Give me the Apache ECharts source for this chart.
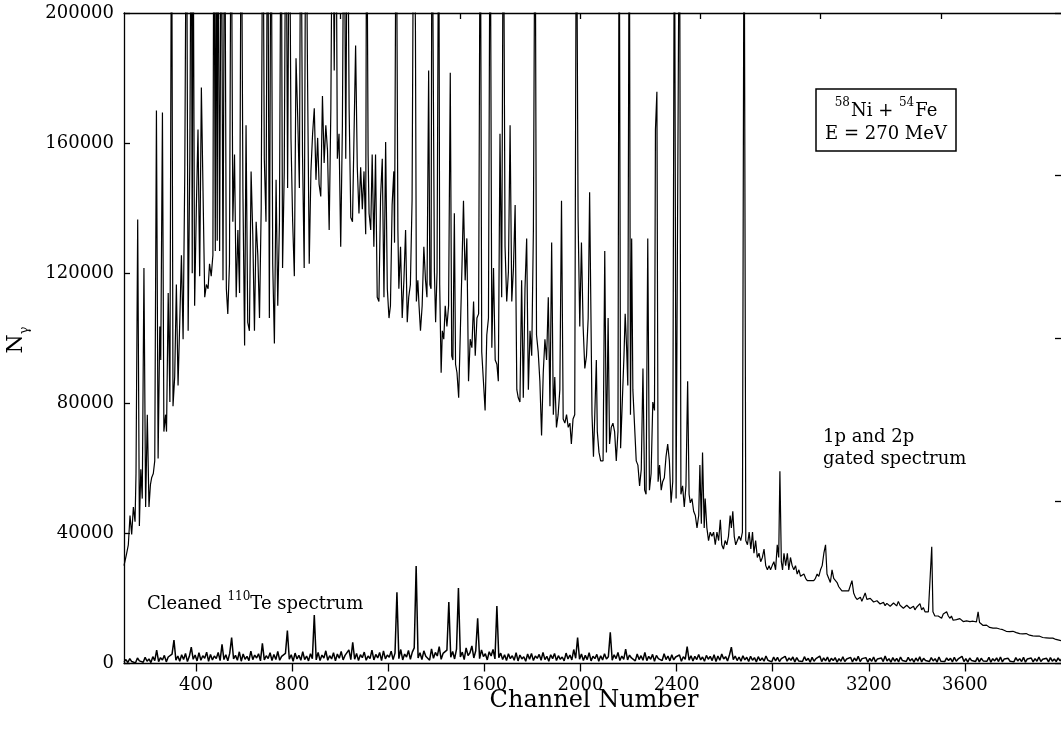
<!DOCTYPE html>
<html><head><meta charset="utf-8">
<script src="https://cdn.jsdelivr.net/npm/echarts@6/dist/echarts.min.js"></script>
<style>html,body{margin:0;padding:0;background:#fff}#c{width:1061px;height:732px}</style>
</head><body><div id="c"></div>
<script>
// ---- data ----
const xTickValues = [400, 800, 1200, 1600, 2000, 2400, 2800, 3200, 3600];
const topTickValues = [500, 1000, 1500, 2000, 2500, 3000, 3500];
const yTickInterval = 40000;
const rightTickInterval = 50000;

// 1p and 2p gated spectrum: [channel, counts]
const gatedSpectrum = [
[100,30100],[110,33500],[118,36500],[125,45500],[132,39700],[139,48100],[146,43600],[150,58400],[157,136500],[164,42300],[170,59700],[176,50700],[183,121600],[190,48100],[197,76500],[204,48100],[210,55000],[215,57100],[222,58400],[228,62300],[235,170000],[242,63000],[249,103600],[253,93300],[260,169400],[266,71300],[273,76500],[277,71300],[284,113900],[291,80400],[298,250000],[304,79100],[311,88100],[318,116500],[325,85500],[332,104900],[339,125500],[346,99700],[353,151300],[360,250000],[367,102300],[374,155200],[380,250000],[384,120000],[387,250000],[394,110000],[401,139700],[408,164200],[415,119100],[422,177100],[429,177100],[436,112600],[443,116500],[450,115200],[456,122900],[463,119100],[470,125500],[474,250000],[480,126800],[484,250000],[488,130000],[491,250000],[498,126800],[505,250000],[512,117800],[519,250000],[526,115200],[532,107500],[539,122900],[546,250000],[553,135800],[560,156500],[567,112600],[574,133300],[581,113900],[588,250000],[595,144900],[602,97800],[608,165500],[615,104900],[622,102300],[629,151300],[636,132000],[643,102300],[650,135800],[657,125500],[664,106200],[671,139700],[678,250000],[684,155200],[691,135800],[698,250000],[705,106200],[712,250000],[719,122900],[726,98400],[733,148700],[740,110000],[747,135800],[754,250000],[760,121600],[767,151300],[774,250000],[781,146200],[788,250000],[795,161600],[802,135800],[809,119100],[816,186100],[823,168100],[830,146200],[836,250000],[843,156500],[850,121600],[857,250000],[864,179700],[871,122900],[878,151300],[885,162900],[892,170700],[899,148700],[906,161600],[912,147400],[919,143600],[926,174500],[933,153900],[940,165500],[947,157800],[954,133300],[961,170700],[968,250000],[975,182300],[982,250000],[988,155200],[995,162900],[1002,128100],[1009,165500],[1016,250000],[1023,155200],[1030,250000],[1037,170700],[1044,137100],[1051,135800],[1058,135800],[1064,190000],[1071,152600],
[1078,138400],[1085,152600],[1092,139700],[1099,151300],[1106,132000],[1110,250000],[1116,156500],[1120,138400],[1127,133300],[1133,156500],[1140,128100],[1147,156500],[1154,112600],[1161,111300],[1168,143600],[1175,155200],[1182,112600],[1189,160300],[1196,115200],[1203,106200],[1209,110000],[1216,141000],[1223,151300],[1226,129400],[1233,250000],[1240,133300],[1244,115200],[1251,128100],[1258,106200],[1265,117800],[1272,133300],[1279,104900],[1285,112600],[1292,116500],[1299,142300],[1306,250000],[1313,195200],[1317,111300],[1323,117800],[1328,110000],[1334,102300],[1341,110000],[1348,128100],[1355,117800],[1361,112600],[1368,182300],[1373,116500],[1378,115200],[1382,250000],[1386,250000],[1392,120400],[1397,104900],[1403,120400],[1410,250000],[1414,116500],[1420,89400],[1425,102300],[1431,99700],[1437,110000],[1444,103600],[1451,110000],[1458,181600],[1464,94600],[1469,93300],[1475,138400],[1480,92000],[1486,89400],[1493,81700],[1500,102300],[1507,122900],[1513,142300],[1520,117800],[1527,130700],[1534,86800],[1541,99700],[1548,97100],[1555,111300],[1562,94600],[1569,106200],[1576,107500],[1583,250000],[1589,95800],[1596,86800],[1603,77800],[1610,101000],[1617,106200],[1624,250000],[1631,97100],[1638,121600],[1645,93300],[1652,92000],[1658,86800],[1665,162900],[1672,112600],[1679,250000],[1686,128100],[1693,111300],[1700,120400],[1707,165500],[1714,111300],[1721,121600],[1728,141000],[1735,84200],[1741,81700],[1748,80400],[1755,117800],[1762,81700],[1769,115200],[1776,130700],[1783,84200],[1790,102300],[1797,94600],[1804,133300],[1811,250000],[1817,101000],[1824,95800],[1831,86800],[1838,70100],[1845,89400],[1852,99700],[1859,93300],[1866,112600],[1873,79100],[1880,129400],[1887,76500],[1893,88100],[1900,72600],[1907,76500],[1914,84200],[1921,142300],[1928,75200],[1935,73900],[1942,76500],[1949,72600],[1956,73900],[1962,67500],[1969,75200],[1976,76500],[1983,250000],[1990,137100],[1997,103600],[2004,129400],[2011,103600],[2018,90700],[2025,94600],[2032,106200],[2038,144900],
[2048,76500],[2054,63600],[2059,75200],[2066,93300],[2070,71300],[2077,64900],[2084,62300],[2094,62300],[2101,126800],[2108,64900],[2115,106200],[2121,67500],[2128,72600],[2135,73900],[2142,71300],[2149,62300],[2156,71300],[2161,250000],[2167,66200],[2174,66200],[2181,94600],[2186,107500],[2192,97100],[2197,85500],[2203,250000],[2208,76500],[2213,130700],[2218,84200],[2225,84200],[2232,62300],[2239,61000],[2246,54600],[2253,59700],[2260,90700],[2267,53300],[2273,52000],[2280,130700],[2287,53300],[2294,58400],[2301,80400],[2308,77800],[2312,164200],[2318,175800],[2323,55900],[2329,61000],[2336,53300],[2342,55900],[2349,57100],[2356,63600],[2363,67500],[2370,62300],[2377,49400],[2384,55900],[2391,250000],[2398,50700],[2405,50700],[2412,250000],[2418,52000],[2425,54600],[2432,48100],[2439,54600],[2446,86800],[2452,52000],[2457,49400],[2464,50700],[2471,46800],[2478,45500],[2485,41700],[2492,45500],[2497,61000],[2503,43000],[2508,64900],[2515,41700],[2519,50700],[2526,41700],[2533,37800],[2540,40400],[2547,39100],[2554,40400],[2561,36500],[2568,40400],[2575,37800],[2582,44200],[2588,36500],[2595,35200],[2602,37800],[2609,36500],[2616,39100],[2623,45500],[2628,41700],[2634,46800],[2640,39100],[2646,36500],[2653,37800],[2660,39100],[2667,37800],[2674,40400],[2681,250000],[2688,37800],[2695,36500],[2702,40400],[2709,35200],[2716,40400],[2722,33900],[2729,37800],[2736,32600],[2743,33900],[2750,31300],[2757,32600],[2764,35200],[2771,30100],[2778,28800],[2785,30100],[2791,28800],[2798,30100],[2805,31300],[2812,28800],[2819,36500],[2825,32600],[2830,59100],[2836,31300],[2841,28800],[2847,33900],[2854,30100],[2861,33900],[2867,28800],[2874,32600],[2881,30100],[2888,28800],[2895,30100],[2902,27500],[2909,28800],[2916,26800],[2923,26200],[2930,27500],[2937,26200],[2944,25500],[2950,24900],[2957,25500],[2964,24900],[2971,25500],[2978,26200],[2985,27500],[2992,26800],[2999,28800],[3006,30100],[3013,33900],[3020,36500],
[3026,27500],[3033,26200],[3040,24900],[3047,28800],[3054,26200],[3061,26800],[3068,24900],[3075,23600],[3082,23000],[3088,22300],[3095,21700],[3102,22300],[3109,21700],[3116,22300],[3123,21700],[3130,25500],[3137,21700],[3144,20400],[3151,19700],[3158,19700],[3165,20400],[3171,19100],[3178,19700],[3185,21700],[3192,19700],[3199,19100],[3206,20000],[3213,19700],[3220,18900],[3227,18400],[3234,19300],[3240,19100],[3247,18300],[3254,18400],[3261,18800],[3268,17800],[3275,18500],[3282,18400],[3289,17600],[3296,17800],[3303,18600],[3310,18400],[3316,17700],[3323,19100],[3330,17900],[3337,17800],[3344,17000],[3351,17200],[3358,17900],[3365,17800],[3372,16900],[3379,17200],[3386,17600],[3392,16500],[3399,17300],[3406,17800],[3413,18400],[3420,16500],[3427,17200],[3434,15900],[3441,16500],[3448,15900],[3456,15900],[3462,35900],[3467,15900],[3475,14600],[3482,15200],[3489,14600],[3496,14100],[3503,13900],[3510,15200],[3517,14600],[3524,15900],[3531,14600],[3538,13900],[3544,14600],[3551,13300],[3558,13900],[3565,13500],[3572,13300],[3579,13800],[3586,13300],[3593,12900],[3600,12600],[3607,13100],[3614,12600],[3621,12900],[3627,12600],[3634,13000],[3641,13300],[3648,12800],[3655,15900],[3661,12600],[3669,12000],[3676,11700],[3683,11400],[3690,11800],[3696,11400],[3703,11100],[3710,11400],[3717,10900],[3724,10700],[3731,10900],[3738,10500],[3745,10600],[3752,10100],[3758,10400],[3765,10300],[3772,9900],[3779,10100],[3786,9800],[3793,9700],[3800,9900],[3807,9400],[3814,9500],[3821,9600],[3828,9200],[3835,9400],[3841,9100],[3848,9000],[3855,9200],[3862,8800],[3869,8700],[3876,8900],[3883,8500],[3890,8800],[3897,8400],[3904,8300],[3911,8400],[3918,8100],[3924,8000],[3931,8200],[3938,7900],[3945,8100],[3952,7800],[3959,7700],[3966,7800],[3973,7500],[3979,7400],[3984,7200],[4000,7000]
];

// Cleaned 110Te spectrum: counts every 8 channels from channel 100
const cleanedStart = 100;
const cleanedStep = 8;
const cleanedCounts = [
500,1200,300,1500,600,1000,200,1700,800,1300,
400,1900,700,1400,300,2100,900,4100,600,1800,
1100,2500,500,2000,1400,2900,7200,1000,2300,700,
2700,1200,3100,600,2200,5000,1300,2600,800,3300,
1000,2400,1600,3500,700,2800,1100,2300,1500,3400,
900,5900,1200,2700,800,3100,8000,1400,2500,1000,
3600,700,2900,1300,2200,900,3800,1200,2600,1700,
3000,800,6200,1100,2400,1500,3300,900,2800,1200,
3700,1000,2200,1600,3100,10100,1300,2700,700,3200,
1400,2500,1000,3600,1200,2300,800,3000,1500,14900,
1100,3400,900,2600,1700,3900,1000,2400,1400,3300,
800,2900,1600,3700,1100,2500,1900,4200,1200,6500,
1300,3100,900,2700,1800,3500,1000,2300,1500,4100,
1100,2800,1700,3400,900,3900,1400,2600,1900,3800,
1200,3200,21900,1500,4300,1100,2900,2000,4000,1300,
3500,4800,30000,1700,3300,1200,3900,2200,2800,1000,
4500,1600,3400,2300,5200,1300,3100,2600,4100,18900,
1900,3700,1400,4400,23200,2000,3500,1200,4800,2400,
3300,5400,1700,3900,13900,1500,4200,2100,3000,1100,
3600,2300,4300,1400,17700,1800,3200,1200,2700,900,
3000,1500,2400,1000,3300,800,2600,1400,2100,700,
2900,1300,3100,900,2300,1600,2800,1000,3400,1200,
2200,700,2700,1500,3100,900,2400,1300,2000,800,
3200,1400,2600,1100,4300,1600,8000,1300,2900,900,
2500,1200,3300,800,2200,1500,2800,700,2400,1100,
3000,1400,2100,9600,1000,2700,1500,3400,900,2300,
1300,4400,1100,2600,1700,2100,800,2900,1200,2400,
1000,3400,900,2200,1300,2800,700,2500,1500,2000,
900,3000,1200,2300,800,2700,1100,2000,1400,2600,
700,2100,1300,5200,1000,2400,800,2200,1200,2800,
1100,2000,700,2500,1300,2200,900,2700,600,2300,
1000,2900,1400,2100,800,2600,5000,1200,2300,900,
2000,700,2400,1100,1900,600,2200,1000,1800,500,
2100,900,1700,700,2300,1000,1600,500,2000,800,
1900,600,1500,900,2200,700,1700,1000,2000,500,
1800,800,1400,600,2100,900,1600,400,1900,700,
1500,1000,2300,600,1700,800,2000,500,1600,900,
1800,400,1500,700,2100,600,1400,900,1900,500,
1700,800,2200,600,1500,1000,1800,400,1600,700,
2000,500,1400,900,1700,600,2300,800,1500,400,
1800,700,1600,500,2000,900,1400,600,1900,800,
1500,400,1700,700,2100,500,1600,900,1400,600,
1800,800,1500,400,2000,700,1300,600,1700,900,
1600,500,1900,700,1400,800,2200,600,1500,400,
1700,900,1400,600,1800,500,1600,800,1300,700,
1900,400,1500,800,1700,600,2000,500,1400,900,
1600,700,1300,500,1800,800,1500,600,1900,400,
1400,900,1700,500,1500,700,2000,600,1300,800,
1600,500,1800,700,1400,600,1700,800,1500
];

// ---- chart ----
const F = 'DejaVu Serif';
const cleanedSpectrum = cleanedCounts.map((v, i) => [cleanedStart + i * cleanedStep, v]);
const black = '#000';
const chart = echarts.init(document.getElementById('c'), null, {renderer: 'canvas'});
const axisLineStyle = {color: black, width: 1.3};
const plain = v => String(v);

chart.setOption({
  animation: false,
  backgroundColor: '#fff',
  grid: {left: 124, top: 13, width: 941, height: 650.5, containLabel: false},
  xAxis: [
    {type: 'value', min: 100, max: 4000, position: 'bottom',
     axisLine: {show: true, onZero: false, lineStyle: axisLineStyle},
     axisTick: {show: true, inside: false, length: 8, customValues: xTickValues, lineStyle: axisLineStyle},
     axisLabel: {customValues: xTickValues, formatter: plain, color: black, fontFamily: F, fontSize: 18, margin: 13},
     splitLine: {show: false}},
    {type: 'value', min: 100, max: 4000, position: 'top',
     axisLine: {show: true, onZero: false, lineStyle: axisLineStyle},
     axisTick: {show: true, inside: true, length: 6, customValues: topTickValues, lineStyle: axisLineStyle},
     axisLabel: {show: false},
     splitLine: {show: false}}
  ],
  yAxis: [
    {type: 'value', min: 0, max: 200000, interval: yTickInterval, position: 'left',
     axisLine: {show: true, onZero: false, lineStyle: axisLineStyle},
     axisTick: {show: true, inside: true, length: 6, lineStyle: axisLineStyle},
     axisLabel: {formatter: plain, color: black, fontFamily: F, fontSize: 18, margin: 10},
     splitLine: {show: false}},
    {type: 'value', min: 0, max: 200000, interval: rightTickInterval, position: 'right',
     axisLine: {show: false},
     axisTick: {show: true, inside: true, length: 6, lineStyle: axisLineStyle},
     axisLabel: {show: false},
     splitLine: {show: false}}
  ],
  series: [
    {name: '1p and 2p gated spectrum', type: 'line', data: gatedSpectrum, showSymbol: false,
     clip: true, lineStyle: {color: black, width: 1.2}, z: 3},
    {name: 'Cleaned 110Te spectrum', type: 'line', data: cleanedSpectrum, showSymbol: false,
     clip: true, lineStyle: {color: black, width: 1.5}, z: 3}
  ],
  graphic: [
    {type: 'rect', shape: {x: 816, y: 89, width: 140, height: 62},
     style: {fill: '#fff', stroke: black, lineWidth: 1.5}, z: 10},
    {type: 'text', x: 886, y: 120, z: 11,
     style: {text: '{s|58}{m|Ni + }{s|54}{m|Fe}\n{m|E = 270 MeV}', align: 'center', verticalAlign: 'middle',
       rich: {m: {fontFamily: F, fontSize: 18, lineHeight: 23, fill: black, verticalAlign: 'bottom'},
              s: {fontFamily: F, fontSize: 12, lineHeight: 23, fill: black, verticalAlign: 'top', padding: [0, 1, 0, 0]}}}},
    {type: 'text', x: 823, y: 448, z: 11,
     style: {text: '1p and 2p\ngated spectrum', align: 'left', verticalAlign: 'middle',
       fontFamily: F, fontSize: 18, lineHeight: 22, fill: black}},
    {type: 'text', x: 147, y: 602, z: 11,
     style: {text: '{m|Cleaned }{s|110}{m|Te spectrum}', align: 'left', verticalAlign: 'middle',
       rich: {m: {fontFamily: F, fontSize: 18, lineHeight: 23, fill: black, verticalAlign: 'bottom'},
              s: {fontFamily: F, fontSize: 12, lineHeight: 23, fill: black, verticalAlign: 'top'}}}},
    {type: 'text', x: 594, y: 701, z: 11,
     style: {text: 'Channel Number', align: 'center', verticalAlign: 'middle',
       fontFamily: F, fontSize: 24, fill: black}},
    {type: 'text', x: 18, y: 340, rotation: Math.PI / 2, z: 11,
     style: {text: '{m|N}{g|γ}', align: 'center', verticalAlign: 'middle',
       rich: {m: {fontFamily: F, fontSize: 22, lineHeight: 26, fill: black, verticalAlign: 'top'},
              g: {fontFamily: F, fontSize: 13, lineHeight: 26, fill: black, verticalAlign: 'bottom'}}}}
  ]
});
</script>
</body></html>
